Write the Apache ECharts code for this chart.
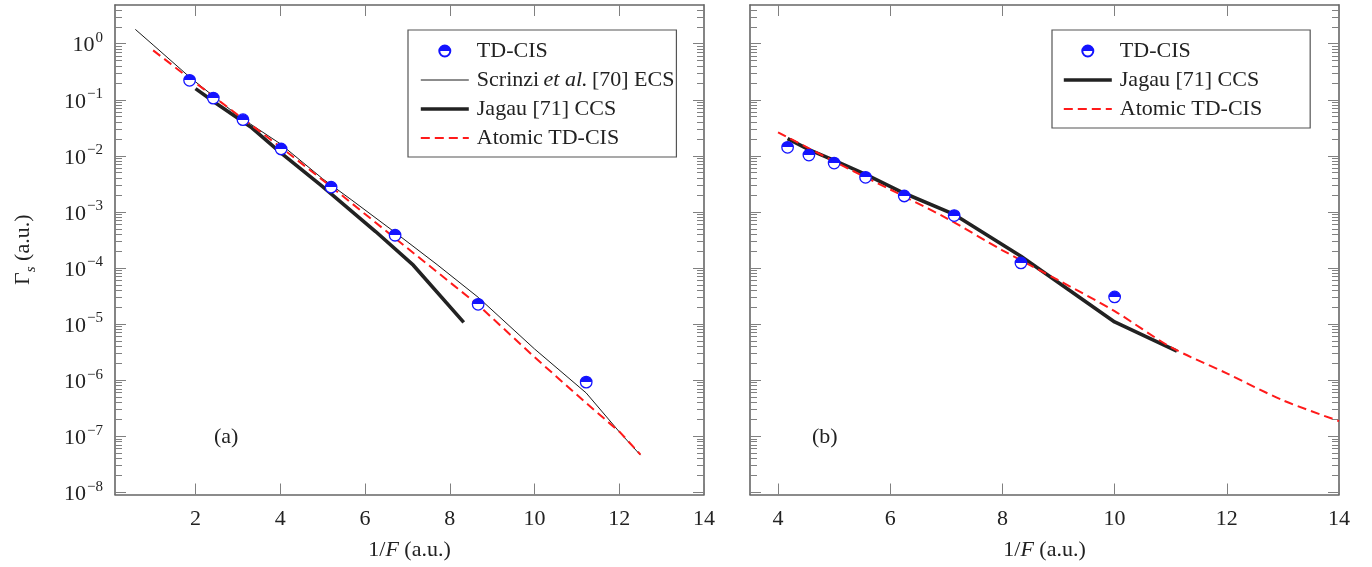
<!DOCTYPE html>
<html>
<head>
<meta charset="utf-8">
<script src="https://cdn.jsdelivr.net/npm/echarts@6/dist/echarts.min.js"></script>
<style>html,body{margin:0;padding:0;background:#fff}#c{width:1372px;height:567px}</style>
</head>
<body>
<div id="c"></div>
<script>
// ---------- data ----------
const xTicksA = [2, 4, 6, 8, 10, 12, 14];
const xTicksB = [4, 6, 8, 10, 12, 14];
const yTickExps = [-8, -7, -6, -5, -4, -3, -2, -1, 0];

// Panel (a)
const tdcisA_x = [1.86, 2.42, 3.12, 4.02, 5.20, 6.71, 8.67, 11.22];
const tdcisA_y = [0.222, 0.107, 0.0441, 0.01325, 0.00276, 3.83e-4, 2.25e-5, 9.2e-7];
const scrinziA_x = [0.58, 1.0, 1.86, 3.0, 3.99, 5.0, 5.69, 6.71, 7.7, 8.67, 10.0, 11.22, 12.02, 12.5];
const scrinziA_y = [1.80, 0.95, 0.254, 0.052, 0.0166, 3.9e-3, 1.62e-3, 4.3e-4, 1.15e-4, 3.0e-5, 3.6e-6, 5.9e-7, 1.15e-7, 4.6e-8];
const jagauA_x = [2.0, 2.5, 3.33, 4.0, 5.0, 6.25, 7.14, 8.33];
const jagauA_y = [0.158, 0.085, 0.0316, 0.0115, 2.82e-3, 4.47e-4, 1.12e-4, 1.07e-5];
const atomicA_x = [1.0, 1.86, 3.12, 4.02, 5.20, 6.71, 8.67, 10.0, 11.22, 12.02, 12.5];
const atomicA_y = [0.76, 0.24, 0.0457, 0.0141, 2.82e-3, 3.39e-4, 2.19e-5, 2.57e-6, 3.9e-7, 1.17e-7, 4.7e-8];

// Panel (b)
const tdcisB_x = [4.17, 4.55, 5.0, 5.56, 6.25, 7.14, 8.33, 10.0];
const tdcisB_y = [0.01419, 0.01033, 0.00744, 0.00414, 0.00192, 8.6e-4, 1.23e-4, 3.04e-5];
const jagauB_x = [4.17, 4.55, 5.0, 5.56, 6.25, 7.14, 8.33, 10.0, 11.11];
const jagauB_y = [0.0203, 0.0129, 8.3e-3, 4.68e-3, 2.15e-3, 9.0e-4, 1.62e-4, 1.09e-5, 3.3e-6];
const atomicB_x = [4, 5, 6, 7, 8, 9, 10, 11, 12, 13, 14];
const atomicB_y = [0.0263, 7.94e-3, 2.51e-3, 7.76e-4, 2.07e-4, 6.03e-5, 1.70e-5, 3.89e-6, 1.32e-6, 4.37e-7, 1.86e-7];

const legendA = ['TD-CIS', 'Scrinzi et al. [70] ECS', 'Jagau [71] CCS', 'Atomic TD-CIS'];
const legendB = ['TD-CIS', 'Jagau [71] CCS', 'Atomic TD-CIS'];

// ---------- helpers ----------
const FONT = 'Liberation Serif';
const AXIS_COLOR = '#666';
const TICK_COLOR = '#808080';
const BLUE = '#1414ff';
const pts = (xs, ys) => xs.map((x, i) => [x, Math.log10(ys[i])]);
const minorLogs = [];
for (let e = -9; e <= 0; e++) for (let k = 2; k <= 9; k++) minorLogs.push(Math.log10(k) + e);

const Y_MIN = -8.04, Y_MAX = 0.69;

const halfFill = new echarts.graphic.LinearGradient(0, 0, 0, 1, [
  { offset: 0, color: BLUE }, { offset: 0.5, color: BLUE },
  { offset: 0.5, color: '#fff' }, { offset: 1, color: '#fff' }
]);

const richText = {
  r: { fontFamily: FONT, fontSize: 22, color: '#222' },
  i: { fontFamily: FONT, fontSize: 22, fontStyle: 'italic', color: '#222' }
};

function xAxes(grid, ticks, min) {
  return [
    { gridIndex: grid, type: 'value', position: 'bottom', min: min, max: 14,
      axisLine: { onZero: false, lineStyle: { color: AXIS_COLOR, width: 1.6 } },
      axisTick: { inside: true, length: 11, customValues: ticks, lineStyle: { color: TICK_COLOR, width: 1 } },
      axisLabel: { customValues: ticks, margin: 14, fontFamily: FONT, fontSize: 22, color: '#222' },
      splitLine: { show: false },
      name: '{r|1/}{i|F}{r| (a.u.)}', nameLocation: 'middle', nameGap: 45,
      nameTextStyle: { rich: richText } },
    { gridIndex: grid, type: 'value', position: 'top', min: min, max: 14,
      axisLine: { onZero: false, lineStyle: { color: AXIS_COLOR, width: 1.6 } },
      axisTick: { inside: true, length: 11, customValues: ticks, lineStyle: { color: TICK_COLOR, width: 1 } },
      axisLabel: { show: false }, splitLine: { show: false } }
  ];
}

function yAxes(grid, withLabels) {
  const base = { gridIndex: grid, type: 'value', min: Y_MIN, max: Y_MAX, splitLine: { show: false } };
  const major = Object.assign({}, base, {
    axisLine: { onZero: false, lineStyle: { color: AXIS_COLOR, width: 1.6 } },
    axisTick: { inside: true, length: 11, customValues: yTickExps, lineStyle: { color: TICK_COLOR, width: 1 } }
  });
  const minor = Object.assign({}, base, {
    axisLine: { show: false },
    axisTick: { inside: true, length: 7, customValues: minorLogs.filter(v => v > Y_MIN && v < Y_MAX), lineStyle: { color: TICK_COLOR, width: 1 } },
    axisLabel: { show: false }
  });
  const left = Object.assign({}, major, { position: 'left',
    axisLabel: withLabels ? {
      customValues: yTickExps, margin: 12,
      formatter: v => '{b|10}{s|' + (v === 0 ? '0' : '\u2212' + Math.abs(v)) + '}',
      rich: {
        b: { fontFamily: FONT, fontSize: 22, color: '#222', verticalAlign: 'bottom' },
        s: { fontFamily: FONT, fontSize: 15, color: '#222', verticalAlign: 'bottom', padding: [0, 0, 11, 1] }
      }
    } : { show: false } });
  if (withLabels) {
    left.name = '{g|\u0393}{sub|s}{g| (a.u.)}';
    left.nameLocation = 'middle';
    left.nameGap = 76;
    left.nameTextStyle = { rich: {
      g: { fontFamily: FONT, fontSize: 22, color: '#222', verticalAlign: 'bottom', padding: [0, 0, 5, 0] },
      sub: { fontFamily: FONT, fontSize: 15, fontStyle: 'italic', color: '#222', verticalAlign: 'bottom' }
    } };
  }
  const right = Object.assign({}, major, { position: 'right', axisLabel: { show: false } });
  return [left, right,
    Object.assign({}, minor, { position: 'left' }),
    Object.assign({}, minor, { position: 'right' })];
}

function scatter(name, xs, ys, xi, yi) {
  return { name, type: 'scatter', xAxisIndex: xi, yAxisIndex: yi, data: pts(xs, ys),
    symbol: 'circle', symbolSize: 11.5, z: 10,
    itemStyle: { color: halfFill, borderColor: BLUE, borderWidth: 1.3, opacity: 1 } };
}
function line(name, xs, ys, xi, yi, style, z, smooth) {
  return { name, type: 'line', xAxisIndex: xi, yAxisIndex: yi, data: pts(xs, ys),
    symbol: 'none', showSymbol: false, smooth: smooth || false,
    itemStyle: { color: style.color }, lineStyle: style, z: z || 2 };
}

const thin = { color: '#1a1a1a', width: 1 };
const thick = { color: '#222', width: 3.6 };
const dashed = { color: '#ff1a1a', width: 2, type: [9, 5] };
const styleOf = { 'Scrinzi et al. [70] ECS': thin, 'Jagau [71] CCS': thick, 'Atomic TD-CIS': dashed };

const noSym = { color: 'rgba(0,0,0,0)', borderWidth: 0, borderColor: 'rgba(0,0,0,0)' };
const legItem = n => n === 'TD-CIS' ? { name: n } :
  { name: n, itemStyle: noSym, lineStyle: { color: styleOf[n].color, width: styleOf[n].width, type: styleOf[n].type || 'solid' } };

const legendCommon = {
  orient: 'vertical', itemWidth: 48, itemHeight: 11, itemGap: 7,
  selectedMode: false, borderColor: '#555', borderWidth: 1.2, backgroundColor: '#fff',
  textStyle: { fontFamily: FONT, fontSize: 22, lineHeight: 22, color: '#222', padding: [0, 0, 0, 3], rich: {
    r: { fontFamily: FONT, fontSize: 22, color: '#222' },
    i: { fontFamily: FONT, fontSize: 22, fontStyle: 'italic', color: '#222' } } },
  formatter: n => n === 'Scrinzi et al. [70] ECS' ? '{r|Scrinzi\u2009}{i|et al.}{r|\u2009[70] ECS}' : n
};

const option = {
  animation: false,
  backgroundColor: '#fff',
  grid: [
    { left: 115, top: 5, width: 589, height: 489.5 },
    { left: 750, top: 5, width: 589, height: 489.5 }
  ],
  xAxis: [...xAxes(0, xTicksA, 0.1), ...xAxes(1, xTicksB, 3.5)],
  yAxis: [...yAxes(0, true), ...yAxes(1, false)],
  legend: [
    Object.assign({}, legendCommon, { left: 408, top: 30, padding: [10, 2, 8, 11], data: legendA.map(legItem) }),
    Object.assign({}, legendCommon, { left: 1052, top: 30, padding: [10, 48, 8, 10], data: legendB.map(legItem) })
  ],
  series: [
    line('Scrinzi et al. [70] ECS', scrinziA_x, scrinziA_y, 0, 0, thin, 3),
    line('Jagau [71] CCS', jagauA_x, jagauA_y, 0, 0, thick, 2),
    line('Atomic TD-CIS', atomicA_x, atomicA_y, 0, 0, dashed, 4),
    scatter('TD-CIS', tdcisA_x, tdcisA_y, 0, 0),
    line('Jagau [71] CCS', jagauB_x, jagauB_y, 2, 4, thick, 2),
    line('Atomic TD-CIS', atomicB_x, atomicB_y, 2, 4, dashed, 4, 0.3),
    scatter('TD-CIS', tdcisB_x, tdcisB_y, 2, 4)
  ],
  graphic: [
    { type: 'text', left: 214, top: 426, style: { text: '(a)', font: '22px "Liberation Serif"', fill: '#222' } },
    { type: 'text', left: 812, top: 426, style: { text: '(b)', font: '22px "Liberation Serif"', fill: '#222' } }
  ]
};

const chart = echarts.init(document.getElementById('c'), null, { renderer: 'canvas' });
chart.setOption(option);
</script>
</body>
</html>
